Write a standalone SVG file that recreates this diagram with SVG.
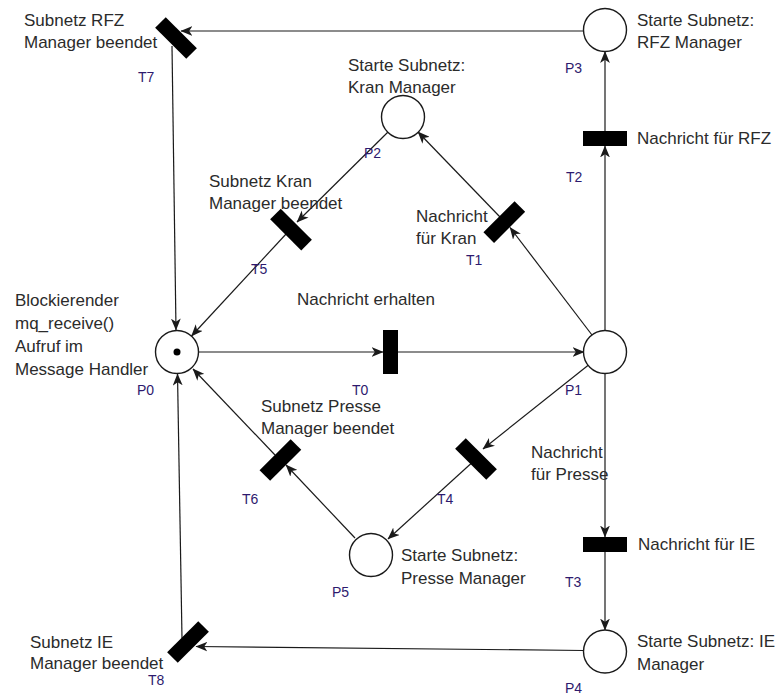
<svg xmlns="http://www.w3.org/2000/svg" width="776" height="697" viewBox="0 0 776 697">
  <style>
    .place { fill: #ffffff; stroke: #1a1a1a; stroke-width: 1.4; }
    .trans { fill: #000000; }
    .arc { fill: none; stroke: #1a1a1a; stroke-width: 1.2; marker-end: url(#arrow); }
    .lbl { font-family: "Liberation Sans", Arial, sans-serif; font-size: 17px; fill: #2b2b2b; }
    .id { font-family: "Liberation Sans", Arial, sans-serif; font-size: 14px; fill: #2e1a6e; }
  </style>
  <defs>
    <marker id="arrow" markerUnits="userSpaceOnUse" markerWidth="12" markerHeight="10" viewBox="0 0 11 9" refX="10.5" refY="4.5" orient="auto">
      <path d="M0,0 L11,4.5 L0,9 L3,4.5 Z" fill="#1a1a1a"/>
    </marker>
  </defs>
  <rect width="776" height="697" fill="#ffffff"/>

  <!-- arcs of the net -->
  <g id="connectors">
    <path class="arc" d="M198,352 L383,352"/>
    <path class="arc" d="M398,352 L584,352"/>
    <path class="arc" d="M605,331 L605,146"/>
    <path class="arc" d="M605,131 L605,51.5"/>
    <path class="arc" d="M584,31 L181,31"/>
    <path class="arc" d="M172,46 L176,330"/>
    <path class="arc" d="M592,335 L510,227.5"/>
    <path class="arc" d="M500,217 L418,132"/>
    <path class="arc" d="M388,132 L297,222"/>
    <path class="arc" d="M287,233 L191.5,336"/>
    <path class="arc" d="M605,373 L605,537"/>
    <path class="arc" d="M605,552 L605,630"/>
    <path class="arc" d="M583.5,650.5 L196,646.5"/>
    <path class="arc" d="M182,638 L177.5,374"/>
    <path class="arc" d="M588.5,365 L483,449"/>
    <path class="arc" d="M476,459 L388,539"/>
    <path class="arc" d="M355,538 L286,465"/>
    <path class="arc" d="M275,455 L193,369"/>
  </g>

  <!-- places -->
  <g id="P0">
    <circle class="place" cx="177" cy="352" r="21.5"/>
    <circle cx="177" cy="352" r="3.5" fill="#000000"/>
    <text class="lbl" x="15" y="306">Blockierender</text>
    <text class="lbl" x="15" y="329">mq_receive()</text>
    <text class="lbl" x="15" y="352">Aufruf im</text>
    <text class="lbl" x="15" y="375">Message Handler</text>
    <text class="id" x="137" y="395">P0</text>
  </g>
  <g id="P1">
    <circle class="place" cx="605" cy="352" r="21.5"/>
    <text class="id" x="565" y="395">P1</text>
  </g>
  <g id="P2">
    <circle class="place" cx="403" cy="117" r="21.5"/>
    <text class="lbl" x="348" y="71">Starte Subnetz:</text>
    <text class="lbl" x="348" y="93">Kran Manager</text>
    <text class="id" x="364" y="158">P2</text>
  </g>
  <g id="P3">
    <circle class="place" cx="605" cy="30" r="21.5"/>
    <text class="lbl" x="637" y="26">Starte Subnetz:</text>
    <text class="lbl" x="637" y="48">RFZ Manager</text>
    <text class="id" x="565" y="73">P3</text>
  </g>
  <g id="P4">
    <circle class="place" cx="605" cy="651.5" r="21.5"/>
    <text class="lbl" x="637" y="647">Starte Subnetz: IE</text>
    <text class="lbl" x="637" y="670">Manager</text>
    <text class="id" x="565" y="693">P4</text>
  </g>
  <g id="P5">
    <circle class="place" cx="371" cy="555" r="21.5"/>
    <text class="lbl" x="401" y="561">Starte Subnetz:</text>
    <text class="lbl" x="401" y="584">Presse Manager</text>
    <text class="id" x="332" y="597">P5</text>
  </g>

  <!-- transitions -->
  <g id="T0">
    <rect class="trans" x="383" y="330" width="15" height="44"/>
    <text class="lbl" x="297" y="305">Nachricht erhalten</text>
    <text class="id" x="352" y="395">T0</text>
  </g>
  <g id="T1">
    <rect class="trans" x="-22" y="-7.5" width="44" height="15" transform="translate(504.3 222.1) rotate(-45)"/>
    <text class="lbl" x="416" y="222">Nachricht</text>
    <text class="lbl" x="416" y="244">für Kran</text>
    <text class="id" x="466" y="265">T1</text>
  </g>
  <g id="T2">
    <rect class="trans" x="583" y="131" width="44" height="15"/>
    <text class="lbl" x="637" y="144">Nachricht für RFZ</text>
    <text class="id" x="566" y="182">T2</text>
  </g>
  <g id="T3">
    <rect class="trans" x="583" y="537" width="44" height="15"/>
    <text class="lbl" x="638" y="550">Nachricht für IE</text>
    <text class="id" x="565" y="587">T3</text>
  </g>
  <g id="T4">
    <rect class="trans" x="-22" y="-7.5" width="44" height="15" transform="translate(476 459) rotate(45)"/>
    <text class="lbl" x="531" y="458">Nachricht</text>
    <text class="lbl" x="531" y="480">für Presse</text>
    <text class="id" x="437" y="504">T4</text>
  </g>
  <g id="T5">
    <rect class="trans" x="-22" y="-7.5" width="44" height="15" transform="translate(291 229.6) rotate(45)"/>
    <text class="lbl" x="209" y="187">Subnetz Kran</text>
    <text class="lbl" x="209" y="209">Manager beendet</text>
    <text class="id" x="251" y="274">T5</text>
  </g>
  <g id="T6">
    <rect class="trans" x="-22" y="-7.5" width="44" height="15" transform="translate(280.4 460) rotate(-45)"/>
    <text class="lbl" x="261" y="412">Subnetz Presse</text>
    <text class="lbl" x="261" y="434">Manager beendet</text>
    <text class="id" x="242" y="504">T6</text>
  </g>
  <g id="T7">
    <rect class="trans" x="-22" y="-7.5" width="44" height="15" transform="translate(176 38) rotate(45)"/>
    <text class="lbl" x="24" y="26">Subnetz RFZ</text>
    <text class="lbl" x="24" y="48">Manager beendet</text>
    <text class="id" x="138" y="82">T7</text>
  </g>
  <g id="T8">
    <rect class="trans" x="-22" y="-7.5" width="44" height="15" transform="translate(188 642) rotate(-45)"/>
    <text class="lbl" x="30" y="648">Subnetz IE</text>
    <text class="lbl" x="30" y="669">Manager beendet</text>
    <text class="id" x="148" y="685">T8</text>
  </g>
</svg>
